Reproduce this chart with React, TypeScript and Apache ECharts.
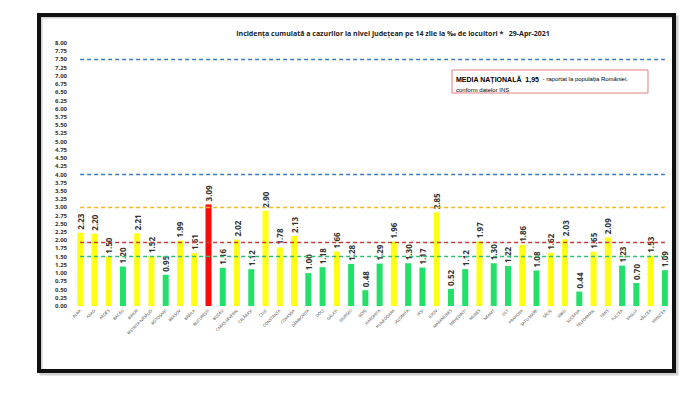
import React, { useEffect, useRef } from "react";
import * as echarts from "echarts";

const counties = [
  "ALBA", "ARAD", "ARGEȘ", "BACĂU", "BIHOR", "BISTRIȚA-NĂSĂUD", "BOTOȘANI", "BRAȘOV", "BRĂILA", "BUCUREȘTI",
  "BUZĂU", "CARAȘ-SEVERIN", "CĂLĂRAȘI", "CLUJ", "CONSTANȚA", "COVASNA", "DÂMBOVIȚA", "DOLJ", "GALAȚI", "GIURGIU",
  "GORJ", "HARGHITA", "HUNEDOARA", "IALOMIȚA", "IAȘI", "ILFOV", "MARAMUREȘ", "MEHEDINȚI", "MUREȘ", "NEAMȚ",
  "OLT", "PRAHOVA", "SATU MARE", "SĂLAJ", "SIBIU", "SUCEAVA", "TELEORMAN", "TIMIȘ", "TULCEA", "VASLUI",
  "VÂLCEA", "VRANCEA",
];

const incidence = [
  2.23, 2.2, 1.5, 1.2, 2.21, 1.52, 0.95, 1.99, 1.61, 3.09,
  1.16, 2.02, 1.12, 2.9, 1.78, 2.13, 1.0, 1.18, 1.66, 1.28,
  0.48, 1.29, 1.96, 1.3, 1.17, 2.85, 0.52, 1.12, 1.97, 1.3,
  1.22, 1.86, 1.08, 1.62, 2.03, 0.44, 1.65, 2.09, 1.23, 0.7,
  1.53, 1.09,
];

const thresholds = [7.5, 4.0, 3.0, 1.95, 1.5];
const thresholdColors = ["#3a78c2", "#3a78c2", "#f2b824", "#c63a3a", "#2fbf74"];

const yTickMin = 0;
const yTickMax = 8;
const yTickStep = 0.25;

const titleText = "Incidența cumulată a cazurilor la nivel județean pe 14 zile la ‰ de locuitori *   29-Apr-2021";
const nationalAverage = "1,95";

function barColor(v: number) {
  if (v > 3) return "#ff0a0a";
  if (v >= 1.5) return "#ffff14";
  return "#22e06a";
}

export default function App() {
  const ref = useRef<HTMLDivElement>(null);
  useEffect(() => {
    document.body.style.margin = "0";
    const chart = echarts.init(ref.current!, null, { renderer: "svg" });
    const last = counties.length - 1;
    chart.setOption({
      animation: false,
      backgroundColor: "#ffffff",
      textStyle: { fontFamily: "Open Sans, Noto Sans, sans-serif" },
      title: {
        text: titleText,
        left: 388,
        top: 25,
        textAlign: "center",
        textStyle: { fontSize: 7, fontWeight: "bold", color: "#222" },
      },
      grid: { left: 73, top: 43, width: 599, height: 263 },
      xAxis: {
        type: "category",
        data: counties,
        axisLine: { show: false },
        axisTick: { show: false },
        axisLabel: { interval: 0, rotate: 45, fontSize: 4, color: "#333", margin: 4 },
      },
      yAxis: {
        type: "value",
        min: yTickMin,
        max: yTickMax,
        interval: yTickStep,
        splitLine: { show: false },
        axisLine: { show: false },
        axisTick: { show: false },
        axisLabel: {
          fontSize: 6,
          fontWeight: "bold",
          color: "#333",
          margin: 6,
          formatter: (v: number) => v.toFixed(2),
        },
      },
      series: [
        {
          type: "bar",
          barWidth: 6,
          data: incidence.map((v) => ({ value: v, itemStyle: { color: barColor(v) } })),
          label: {
            show: true,
            position: "top",
            rotate: 90,
            align: "left",
            verticalAlign: "middle",
            distance: 3,
            fontSize: 8,
            fontWeight: "bold",
            color: "#333",
            formatter: (p: any) => Number(p.value).toFixed(2),
          },
          markLine: {
            symbol: "none",
            silent: true,
            label: { show: false },
            data: thresholds.map((t, i) => [
              { coord: [0, t], lineStyle: { color: thresholdColors[i], type: [4, 3], width: 1.3 } },
              { coord: [last, t] },
            ]),
          },
        },
      ],
      graphic: [
        {
          type: "rect",
          shape: { x: 41, y: 17, width: 636, height: 357 },
          style: { fill: "none", stroke: "#d0d0d0", lineWidth: 3 },
          silent: true,
        },
        {
          type: "rect",
          shape: { x: 39, y: 15, width: 635, height: 356 },
          style: { fill: "none", stroke: "#111", lineWidth: 4 },
          silent: true,
        },
        {
          type: "rect",
          shape: { x: 452, y: 70, width: 196, height: 23 },
          style: { fill: "#fff", stroke: "#e08080", lineWidth: 1 },
          silent: true,
        },
        {
          type: "text",
          x: 456,
          y: 73,
          style: {
            text: `{b|MEDIA NAȚIONALĂ  ${nationalAverage}} {n|- raportat la populația României,}\n{g|conform datelor INS}`,
            rich: {
              b: { fontSize: 7, fontWeight: "bold", color: "#111", lineHeight: 9 },
              n: { fontSize: 6, color: "#333", lineHeight: 9 },
              g: { fontSize: 6, color: "#555", lineHeight: 9 },
            },
          },
          silent: true,
        },
      ],
    });
    return () => chart.dispose();
  }, []);
  return <div ref={ref} style={{ width: 700, height: 394 }} />;
}
